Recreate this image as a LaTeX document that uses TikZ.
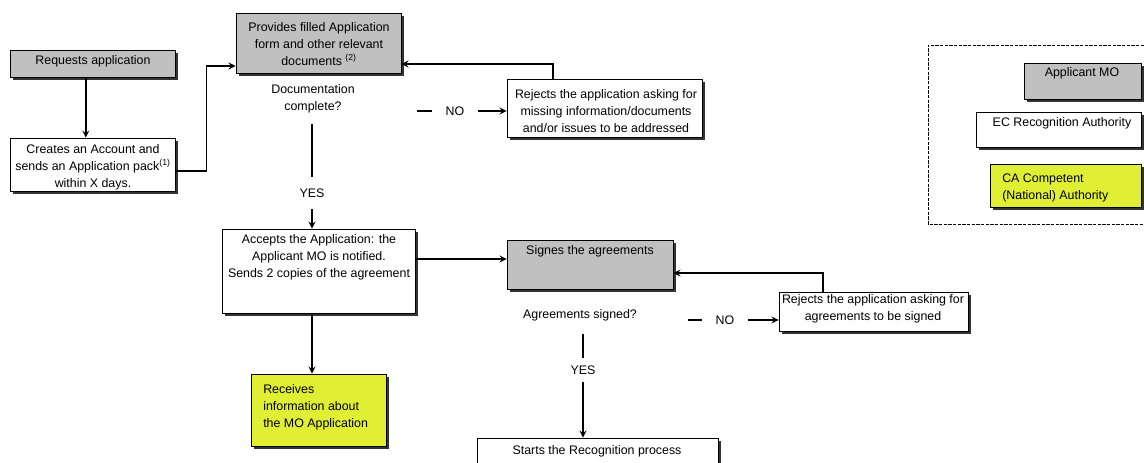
\documentclass[tikz,border=0pt]{standalone}
\usepackage{fontspec}
\setmainfont{Liberation Sans}
\usetikzlibrary{fit,shadows}
\definecolor{boxgrey}{RGB}{192,192,192}
\definecolor{boxyellow}{RGB}{224,238,52}

\begin{document}
\begin{tikzpicture}[x=0.75pt, y=-0.75pt,
	box/.style={draw, line width=0.7pt, inner sep=0pt, drop shadow={shadow xshift=2pt, shadow yshift=-2pt, fill=black!80, opacity=1}},
	mobox/.style={box, fill=boxgrey},
	ecbox/.style={box, fill=white},
	cabox/.style={box, fill=boxyellow},
	txt/.style={inner sep=0pt, align=center, font=\fontsize{9.3}{12.8}\selectfont},
	link/.style={line width=1.3pt},
	arrow/.style={link, -stealth},
	gap/.style={txt, minimum width=34pt}]
	\useasboundingbox (0,0) rectangle (1144,462);
	
	% Boxes
	\node[mobox, fit={(10,50) (175,77)}] (req) {};
	\node[ecbox, fit={(10,138) (175,191)}] (cre) {};
	\node[mobox, fit={(236,13) (401,73)}] (prov) {};
	\node[ecbox, fit={(507,79) (702,137)}] (rej1) {};
	\node[ecbox, fit={(222,229) (415,313)}] (acc) {};
	\node[mobox, fit={(507,240) (673,289)}] (sign) {};
	\node[ecbox, fit={(779,292) (968,331)}] (rej2) {};
	\node[cabox, fit={(251,374) (386,446)}] (rec) {};
	\node[ecbox, fit={(477,438) (718,472)}] (start) {};
	
	% Box texts
	\node[txt] (req-t) at (93,61) {Requests application};
	\node[txt] (cre-t) at (93,167) {Creates an Account and\\sends an Application pack\textsuperscript{(1)}\\within X days.};
	\node[txt] (prov-t) at (319,44) {Provides filled Application\\form and other relevant\\documents \textsuperscript{(2)}};
	\node[txt] (rej1-t) at (606,111) {Rejects the application asking for\\missing information/documents\\and/or issues to be addressed};
	\node[txt] (acc-t) at (319,257) {Accepts the Application: the\\Applicant MO is notified.\\Sends 2 copies of the agreement};
	\node[txt] (sign-t) at (590,251) {Signes the agreements};
	\node[txt] (rej2-t) at (873,309) {Rejects the application asking for\\agreements to be signed};
	\node[txt, anchor=west, align=left] (rec-t) at (263,407) {Receives\\information about\\the MO Application};
	\node[txt] (start-t) at (597,451) {Starts the Recognition process};
	
	% Questions
	\node[txt] (doc) at (313,99) {Documentation\\complete?};
	\node[txt] (agr) at (580,315) {Agreements signed?};
	
	% Flow
	\draw[arrow] ([xshift=-5pt]req.south) -- ([xshift=-5pt]cre.north);
	\draw[arrow] ([yshift=-5pt]cre.east) -- ++(31,0) |- (prov.west |- 0,66);
	\draw[arrow] (553,0 |- rej1.north) |- (prov.east |- 0,64);
	\draw[arrow] (acc.east |- 0,259) -- (sign.west |- 0,259);
	\draw[arrow] (312,0 |- acc.south) -- (312,0 |- rec.north);
	\draw[arrow] (823,0 |- rej2.north) |- (sign.east |- 0,273);
	
	% Documentation complete? NO / YES
	\coordinate (no1s) at (417,111);
	\node[gap] (no1) at (455,111) {NO};
	\draw[link] (no1s) -- (no1.west);
	\draw[arrow] (no1.east) -- (rej1.west |- no1.east);
	\coordinate (yes1s) at (312,124);
	\node[gap, minimum height=24pt] (yes1) at (312,193) {YES};
	\draw[link] (yes1s) -- (yes1.north);
	\draw[arrow] (yes1.south) -- (yes1.south |- acc.north);
	
	% Agreements signed? NO / YES
	\coordinate (no2s) at (688,320);
	\node[gap] (no2) at (725,320) {NO};
	\draw[link] (no2s) -- (no2.west);
	\draw[arrow] (no2.east) -- (rej2.west |- no2.east);
	\coordinate (yes2s) at (583,334);
	\node[gap, minimum height=18pt] (yes2) at (583,370) {YES};
	\draw[link] (yes2s) -- (yes2.north);
	\draw[arrow] (yes2.south) -- (yes2.south |- start.north);
	
	% Legend
	\draw[line width=0.6pt, dash pattern=on 2.5pt off 1pt] (1144,45) -- (928,45) -- (928,224) -- (1144,224);
	\node[mobox, fit={(1024,63) (1141,99)}] (leg-mo) {};
	\node[ecbox, fit={(976,112) (1141,147)}] (leg-ec) {};
	\node[cabox, fit={(990,164) (1141,207)}] (leg-ca) {};
	\node[txt] (leg-mo-t) at (1082,73) {Applicant MO};
	\node[txt] (leg-ec-t) at (1062,123) {EC Recognition Authority};
	\node[txt, anchor=west, align=left] (leg-ca-t) at (1002,188) {CA Competent\\(National) Authority};
\end{tikzpicture}
\end{document}
